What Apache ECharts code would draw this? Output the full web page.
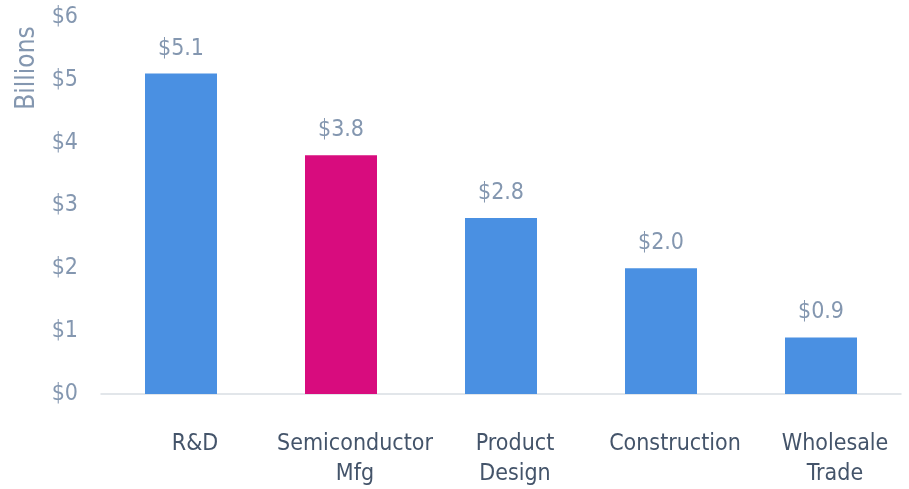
<!DOCTYPE html>
<html>
<head>
<meta charset="utf-8">
<script src="https://cdn.jsdelivr.net/npm/echarts@6/dist/echarts.min.js"></script>
<style>
html,body{margin:0;padding:0;background:#fff;overflow:hidden;}
#chart{width:909px;height:489px;}
</style>
</head>
<body>
<div id="chart"></div>
<script>
var categories = ['R&D', 'Semiconductor\nMfg', 'Product\nDesign', 'Construction', 'Wholesale\nTrade'];
var values = [5.1, 3.8, 2.8, 2.0, 0.9];
var barColors = ['#4A90E2', '#D80C7E', '#4A90E2', '#4A90E2', '#4A90E2'];
var yTicks = [0, 1, 2, 3, 4, 5, 6];
var yAxisTitle = 'Billions';

var chart = echarts.init(document.getElementById('chart'), null, {renderer: 'canvas'});
var font = '"DejaVu Sans Condensed", "DejaVu Sans", sans-serif';
chart.setOption({
  animation: false,
  grid: {left: 101, right: 8, top: 17, bottom: 92, containLabel: false},
  xAxis: {
    type: 'category',
    data: categories,
    axisLine: {show: true, lineStyle: {color: '#D9DEE4', width: 1.5}},
    axisTick: {show: false},
    axisLabel: {
      color: '#44546A', fontFamily: font, fontSize: 23, lineHeight: 30,
      margin: 35, padding: [0, 0, 0, 28], interval: 0
    }
  },
  yAxis: {
    type: 'value',
    min: yTicks[0], max: yTicks[yTicks.length - 1], interval: 1,
    splitLine: {show: false},
    axisLine: {show: false},
    axisTick: {show: false},
    axisLabel: {
      color: '#8497B0', fontFamily: font, fontSize: 23, margin: 23,
      formatter: function (v) { return '$' + v; }
    }
  },
  graphic: [{
    type: 'text',
    rotation: Math.PI / 2,
    x: 27, y: 68,
    style: {
      text: yAxisTitle, fill: '#8497B0', font: '26px ' + font,
      textAlign: 'center', textVerticalAlign: 'middle'
    }
  }],
  series: [{
    type: 'bar',
    barWidth: '45%',
    data: values.map(function (v, i) {
      return {value: v, itemStyle: {color: barColors[i]}};
    }),
    label: {
      show: true, position: 'top', distance: 13, lineHeight: 24,
      color: '#8497B0', fontFamily: font, fontSize: 23,
      formatter: function (p) { return '$' + p.value.toFixed(1); }
    }
  }]
});
</script>
</body>
</html>
